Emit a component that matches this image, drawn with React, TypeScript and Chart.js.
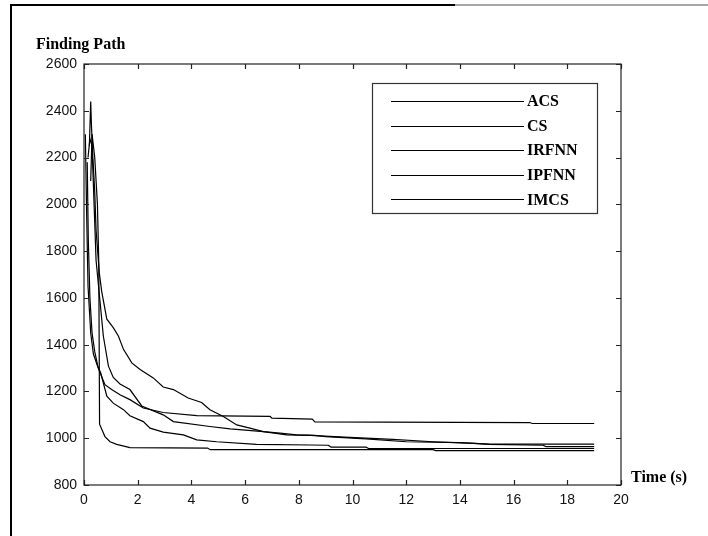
import React, { useEffect, useRef } from "react";
import { Chart, registerables } from "chart.js";

Chart.register(...registerables);

// ---- data ----
const seriesNames = ["ACS", "CS", "IRFNN", "IPFNN", "IMCS"];

const acsX = [0.12, 0.16, 0.22, 0.3, 0.4, 0.53, 0.78, 1.03, 1.34, 1.71, 2.21, 2.95, 4.2, 6.93, 7.0, 8.5, 8.6, 16.6, 16.7, 19];
const acsY = [2180, 1850, 1600, 1450, 1370, 1300, 1229, 1208, 1186, 1165, 1129, 1110, 1097, 1093, 1086, 1082, 1070, 1067, 1063, 1063];

const csX = [0.2, 0.25, 0.28, 0.33, 0.4, 0.45, 0.57, 0.66, 0.85, 1.09, 1.28, 1.47, 1.78, 2.09, 2.58, 2.95, 3.33, 3.88, 4.38, 4.69, 5.19, 5.69, 6.18, 6.68, 7.3, 7.92, 8.6, 9.0, 10.5, 12, 14, 15.1, 19];
const csY = [2250, 2440, 2330, 2200, 2054, 1889, 1707, 1627, 1509, 1473, 1437, 1380, 1322, 1294, 1258, 1219, 1208, 1172, 1153, 1122, 1093, 1057, 1043, 1028, 1022, 1014, 1012, 1007, 997, 985, 981, 975, 975];

const irfnnX = [0.15, 0.22, 0.3, 0.36, 0.45, 0.6, 0.72, 0.91, 1.09, 1.34, 1.71, 2.15, 2.95, 3.33, 4.69, 5.44, 6.68, 7.55, 8.42, 9.7, 11.5, 13.0, 14.5, 15.1, 17.1, 17.2, 19];
const irfnnY = [2200, 2280, 2250, 2050, 1760, 1580, 1437, 1308, 1260, 1232, 1208, 1138, 1100, 1071, 1050, 1040, 1028, 1014, 1012, 1005, 995, 985, 978, 974, 970, 964, 964];

const ipfnnX = [0.05, 0.1, 0.15, 0.25, 0.35, 0.5, 0.62, 0.85, 1.09, 1.47, 1.71, 2.21, 2.46, 2.95, 3.7, 4.2, 4.94, 6.43, 8.42, 9.1, 9.2, 10.5, 10.6, 19];
const ipfnnY = [2300, 1950, 1650, 1450, 1360, 1310, 1280, 1180, 1150, 1122, 1096, 1071, 1043, 1026, 1014, 993, 985, 974, 971, 970, 962, 962, 956, 956];

const imcsX = [0.25, 0.3, 0.4, 0.5, 0.55, 0.58, 0.78, 0.97, 1.22, 1.71, 4.6, 4.7, 13, 13.1, 19];
const imcsY = [2100, 2300, 2200, 2000, 1750, 1060, 1007, 985, 974, 960, 958, 951, 951, 947, 947];

const xTicks = [0, 2, 4, 6, 8, 10, 12, 14, 16, 18, 20];
const yTicks = [800, 1000, 1200, 1400, 1600, 1800, 2000, 2200, 2400, 2600];

const yTitle = "Finding Path";
const xTitle = "Time (s)";

const seriesX = [acsX, csX, irfnnX, ipfnnX, imcsX];
const seriesY = [acsY, csY, irfnnY, ipfnnY, imcsY];

const framePlugin = {
  id: "matlabFrame",
  afterDraw(chart: any) {
    const ctx = chart.ctx;
    const { left, right, top, bottom } = chart.chartArea;
    const xs = chart.scales.x;
    const ys = chart.scales.y;
    ctx.save();

    // outer scan frame
    ctx.strokeStyle = "#000";
    ctx.lineWidth = 2;
    ctx.beginPath();
    ctx.moveTo(11, 536);
    ctx.lineTo(11, 5);
    ctx.lineTo(455, 5);
    ctx.stroke();
    ctx.strokeStyle = "#888";
    ctx.lineWidth = 1.5;
    ctx.beginPath();
    ctx.moveTo(455, 5);
    ctx.lineTo(708, 5);
    ctx.stroke();

    // axes box
    ctx.strokeStyle = "#222";
    ctx.lineWidth = 1.2;
    ctx.strokeRect(left, top, right - left, bottom - top);

    // inward ticks
    const tl = 5;
    ctx.beginPath();
    xTicks.forEach((v) => {
      const px = Math.round(xs.getPixelForValue(v)) + 0.5;
      ctx.moveTo(px, bottom);
      ctx.lineTo(px, bottom - tl);
      ctx.moveTo(px, top);
      ctx.lineTo(px, top + tl);
    });
    yTicks.forEach((v) => {
      const py = Math.round(ys.getPixelForValue(v)) + 0.5;
      ctx.moveTo(left, py);
      ctx.lineTo(left + tl, py);
      ctx.moveTo(right, py);
      ctx.lineTo(right - tl, py);
    });
    ctx.stroke();

    // titles
    ctx.fillStyle = "#000";
    ctx.textBaseline = "middle";
    ctx.textAlign = "left";
    ctx.font = "bold 16px 'Liberation Serif'";
    ctx.fillText(yTitle, 36, 45);
    ctx.font = "bold 16px 'Liberation Serif'";
    ctx.fillText(xTitle, right + 10, bottom - 7);

    // legend
    const lx0 = 372, ly0 = 83, lx1 = 597, ly1 = 213;
    ctx.fillStyle = "#fff";
    ctx.fillRect(lx0, ly0, lx1 - lx0, ly1 - ly0);
    ctx.strokeStyle = "#333";
    ctx.lineWidth = 1.2;
    ctx.strokeRect(lx0 + 0.5, ly0 + 0.5, lx1 - lx0, ly1 - ly0);
    chart.data.datasets.forEach((ds: any, i: number) => {
      const y = 101 + i * 24.6;
      ctx.strokeStyle = "#000";
      ctx.lineWidth = 1.2;
      ctx.beginPath();
      ctx.moveTo(391, Math.round(y) + 0.5);
      ctx.lineTo(524, Math.round(y) + 0.5);
      ctx.stroke();
      ctx.fillStyle = "#000";
      ctx.font = "bold 16px 'Liberation Serif'";
      ctx.fillText(ds.label, 527, y + 1);
    });
    ctx.restore();
  },
};

export default function App() {
  const ref = useRef<HTMLCanvasElement>(null);
  useEffect(() => {
    document.body.style.margin = "0";
    const datasets = seriesNames.map((name, i) => ({
      label: name,
      data: seriesX[i].map((x, j) => ({ x, y: seriesY[i][j] })),
      borderColor: "#000",
      borderWidth: 1.2,
      pointRadius: 0,
      fill: false,
      tension: 0,
    }));
    const chart = new Chart(ref.current as HTMLCanvasElement, {
      type: "line",
      data: { datasets },
      options: {
        animation: false,
        responsive: false,
        devicePixelRatio: 1,
        layout: { padding: { left: 0, top: 64, right: 87, bottom: 0 } },
        plugins: { legend: { display: false }, tooltip: { enabled: false } },
        scales: {
          x: {
            type: "linear",
            min: 0,
            max: 20,
            afterBuildTicks: (s: any) => {
              s.ticks = xTicks.map((v) => ({ value: v }));
            },
            afterFit: (s: any) => {
              s.height = 51;
            },
            ticks: {
              color: "#111",
              padding: 7,
              font: { family: "'Liberation Sans'", size: 14 },
              maxRotation: 0,
              callback: (v: any) => String(v),
            },
            grid: { display: false, drawTicks: false },
            border: { display: false },
          },
          y: {
            type: "linear",
            min: 800,
            max: 2600,
            afterBuildTicks: (s: any) => {
              s.ticks = yTicks.map((v) => ({ value: v }));
            },
            afterFit: (s: any) => {
              s.width = 84;
            },
            ticks: {
              color: "#111",
              padding: 7,
              font: { family: "'Liberation Sans'", size: 14 },
              callback: (v: any) => String(v),
            },
            grid: { display: false, drawTicks: false },
            border: { display: false },
          },
        },
      },
      plugins: [framePlugin],
    });
    return () => chart.destroy();
  }, []);
  return (
    <div style={{ width: 708, height: 536, position: "relative", background: "#fff" }}>
      <canvas ref={ref} width={708} height={536} style={{ display: "block" }} />
    </div>
  );
}
